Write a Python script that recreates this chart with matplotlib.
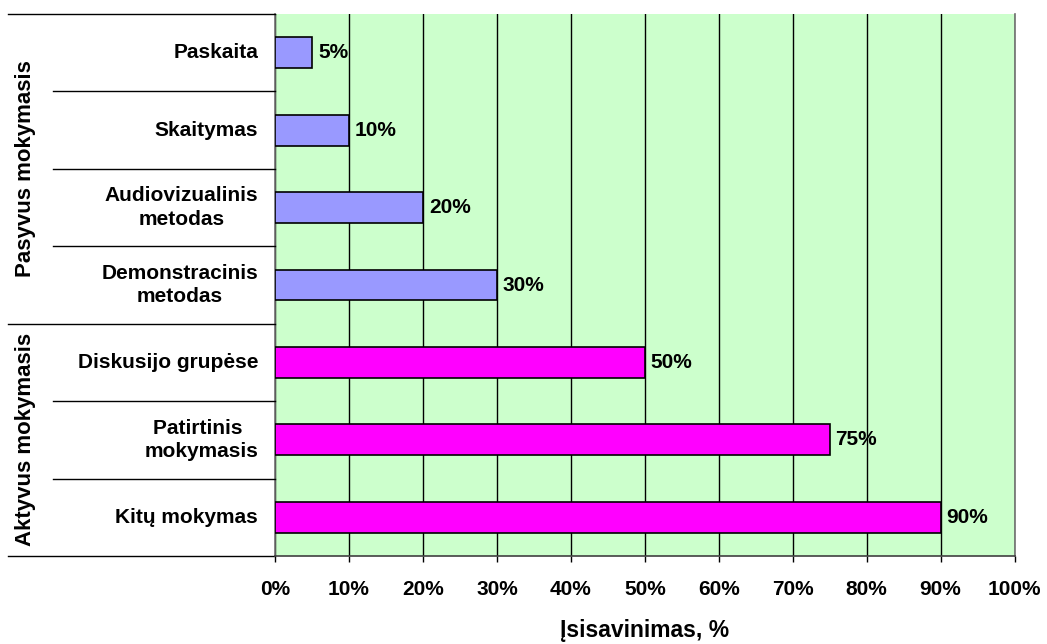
import matplotlib.pyplot as plt
import matplotlib.transforms as mtransforms

plt.rcParams['font.family'] = ['Liberation Sans', 'DejaVu Sans']
plt.rcParams['font.weight'] = 'bold'

# Methods, top to bottom
methods = ['Paskaita', 'Skaitymas', 'Audiovizualinis\nmetodas',
           'Demonstracinis\nmetodas', 'Diskusijo grupėse',
           'Patirtinis \nmokymasis', 'Kitų mokymas']
retention = [5, 10, 20, 30, 50, 75, 90]
groups = ['Pasyvus mokymasis', 'Pasyvus mokymasis', 'Pasyvus mokymasis',
          'Pasyvus mokymasis', 'Aktyvus mokymasis', 'Aktyvus mokymasis',
          'Aktyvus mokymasis']
group_colors = {'Pasyvus mokymasis': '#9999FF', 'Aktyvus mokymasis': '#FF00FF'}
x_ticks = [0, 10, 20, 30, 40, 50, 60, 70, 80, 90, 100]

FS = 15

fig = plt.figure(figsize=(10.47, 6.44), dpi=100)
ax = fig.add_axes([0.2627, 0.1366, 0.7063, 0.8417])
ax.set_facecolor('#CCFFCC')

ypos = list(range(len(methods)))
colors = [group_colors[g] for g in groups]
ax.barh(ypos, retention, height=0.4, color=colors, edgecolor='black',
        linewidth=1.2, zorder=3)
for y, v in zip(ypos, retention):
    ax.text(v + 0.8, y, f'{v}%', va='center', ha='left', fontsize=FS,
            fontweight='bold', zorder=4)

ax.set_xlim(0, 100)
ax.set_ylim(len(methods) - 0.5, -0.5)
ax.set_xticks(x_ticks)
ax.set_xticklabels([f'{t}%' for t in x_ticks], fontsize=FS, fontweight='bold')
ax.set_yticks([])
ax.tick_params(axis='x', direction='out', length=4.5, width=1, pad=13)
ax.grid(axis='x', color='black', linewidth=1, zorder=1)

ax.spines['top'].set_visible(False)
ax.spines['right'].set_color('#707070')
ax.spines['left'].set_color('#707070')
ax.spines['bottom'].set_color('#404040')
for s in ('left', 'right', 'bottom'):
    ax.spines[s].set_linewidth(1.2)
ax.spines['bottom'].set_zorder(5)

ax.set_xlabel('Įsisavinimas, %', fontsize=16.5, fontweight='bold', labelpad=14)

# category axis drawn left of the plot area
trans = mtransforms.blended_transform_factory(ax.transAxes, ax.transData)
for y, name in zip(ypos, methods):
    ax.text(-0.023, y, name, transform=trans, ha='right', va='center',
            multialignment='center', fontsize=FS, fontweight='bold',
            linespacing=1.3)

# row separators and group boundaries
for i in range(len(methods) + 1):
    yb = i - 0.5
    first = i == 0 or i == len(methods) or groups[i] != groups[i - 1]
    x0 = -0.361 if first else -0.300
    ax.plot([x0, 0], [yb, yb], transform=trans, color='black',
            linewidth=1, clip_on=False, zorder=5)

# group labels
start = 0
for i in range(1, len(groups) + 1):
    if i == len(groups) or groups[i] != groups[start]:
        mid = (start + i - 1) / 2
        ax.text(-0.338, mid, groups[start], transform=trans, rotation=90,
                ha='center', va='center', fontsize=16, fontweight='bold')
        start = i

fig.savefig('out.png', dpi=100)
